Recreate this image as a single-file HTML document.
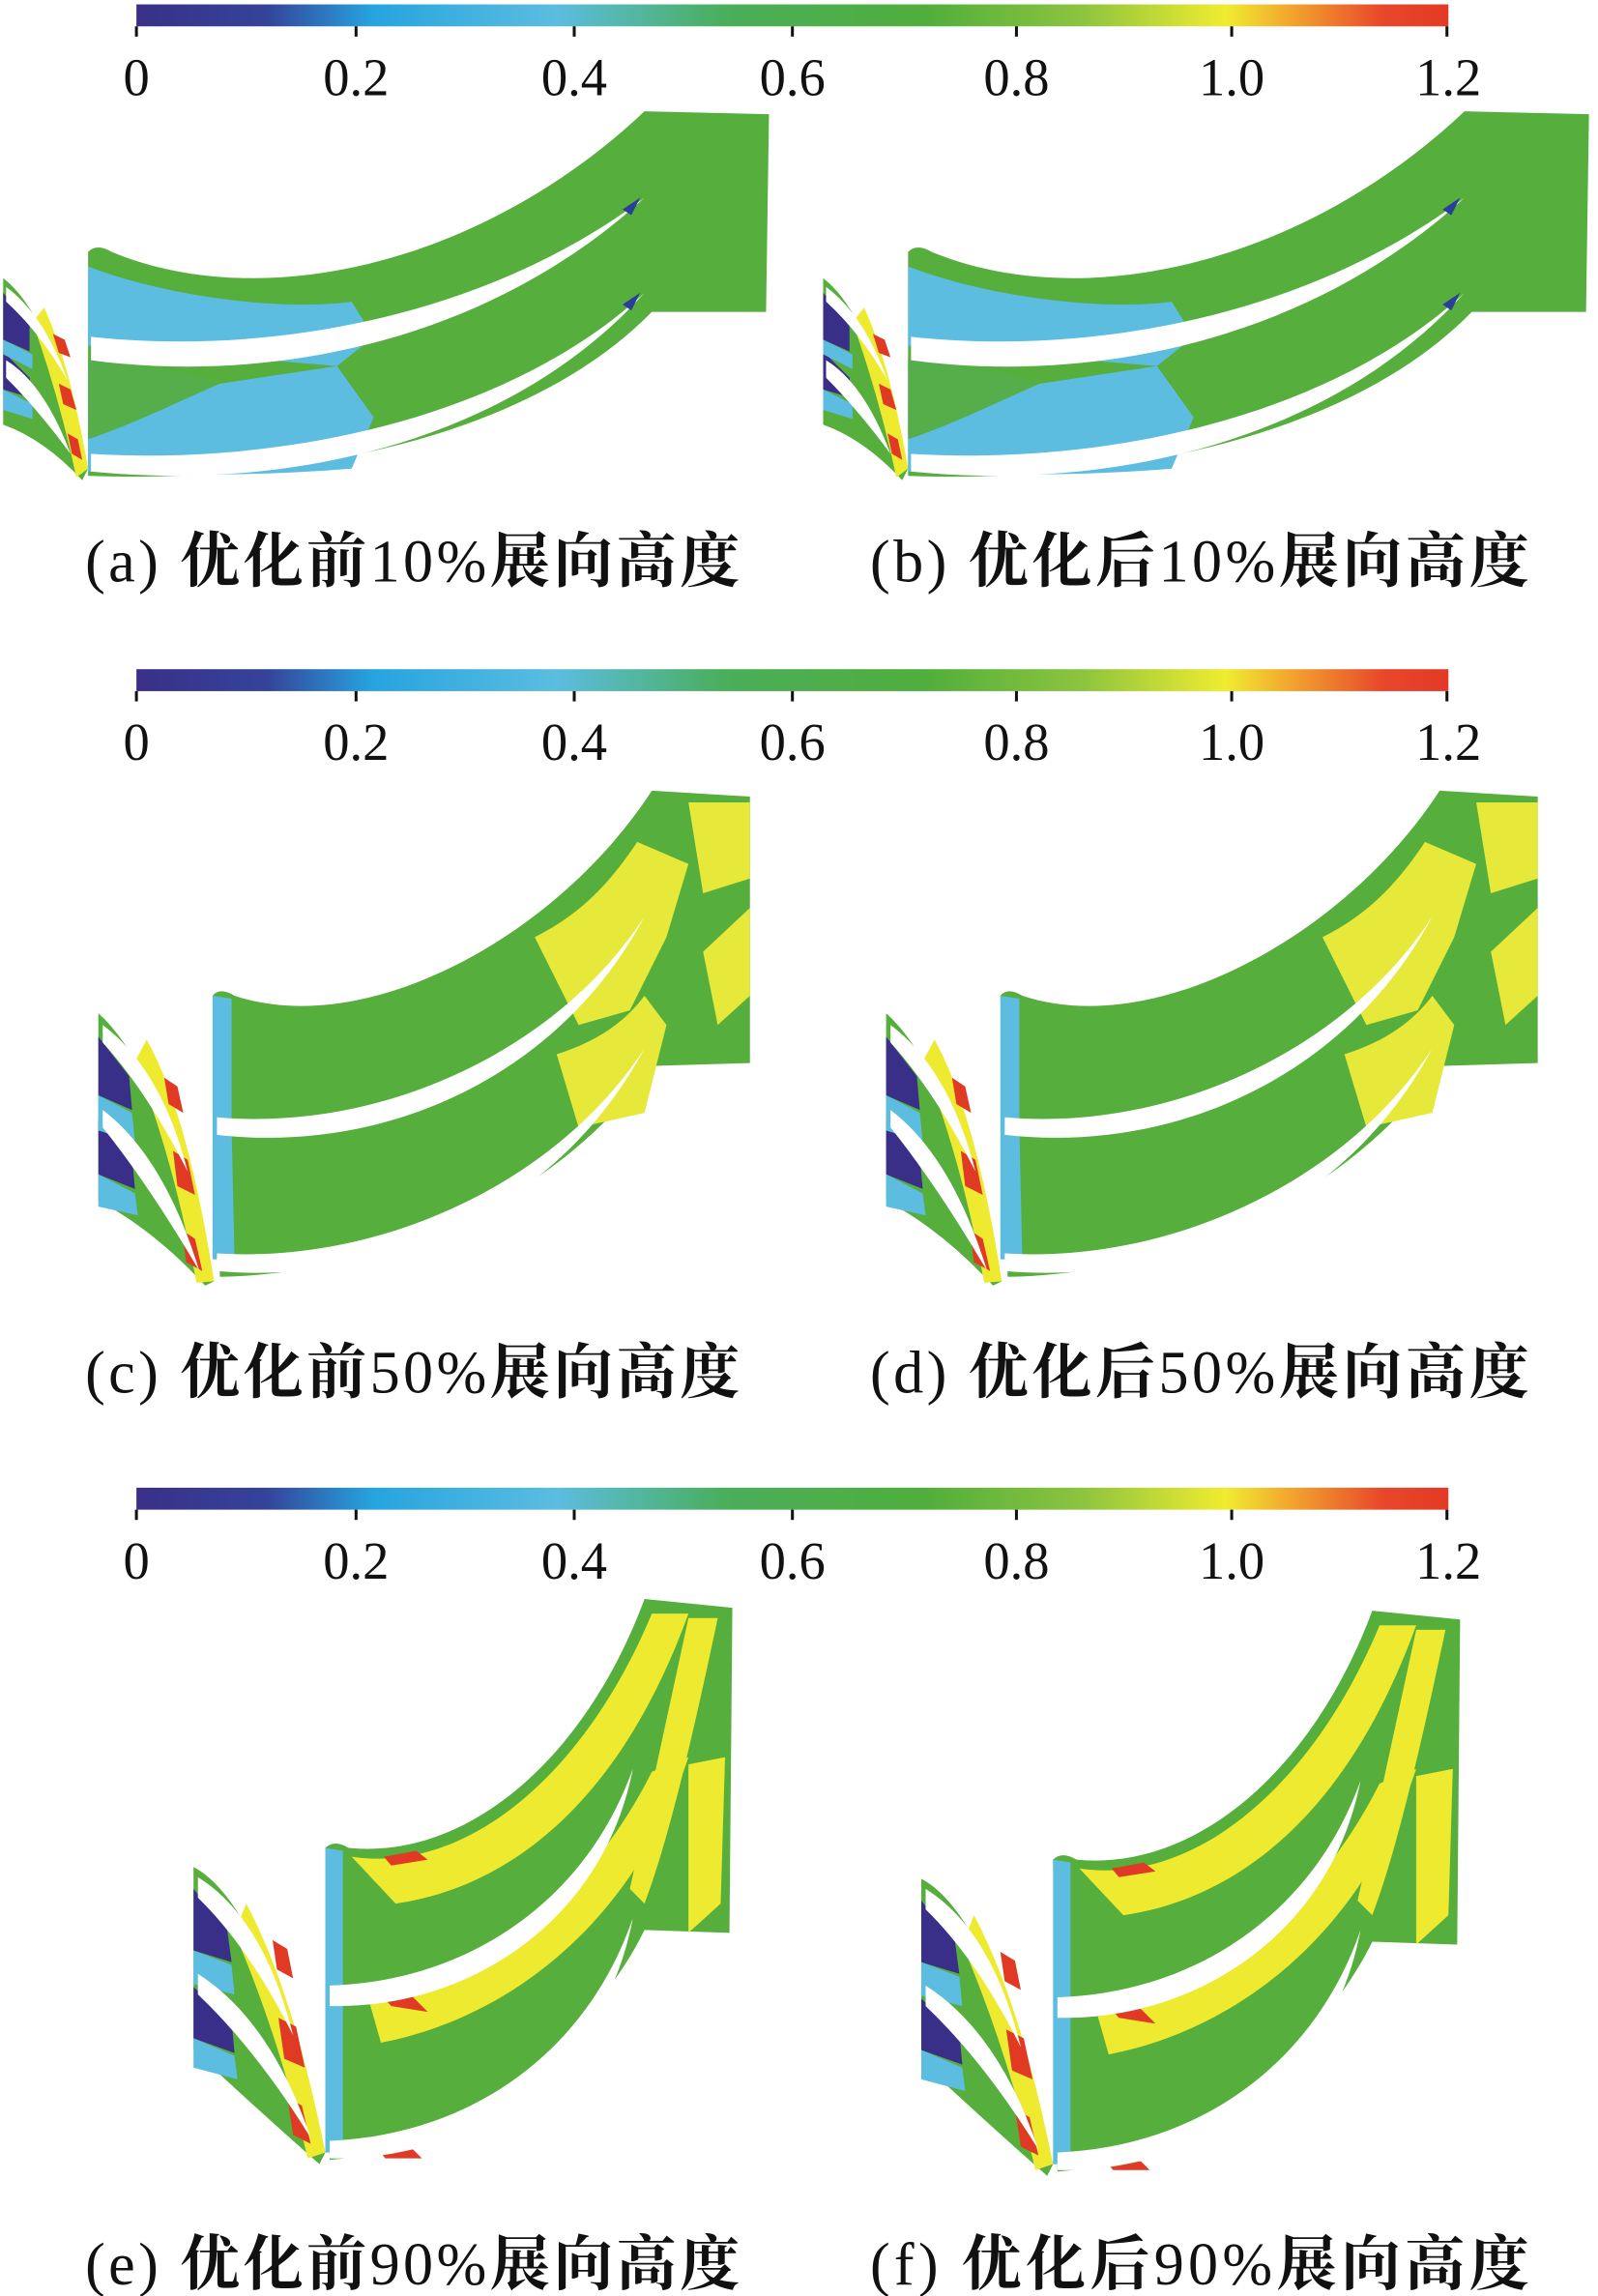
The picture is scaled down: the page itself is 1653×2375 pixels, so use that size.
<!DOCTYPE html>
<html><head><meta charset="utf-8"><style>
html,body{margin:0;padding:0;background:#fff}
svg{display:block}
.t{font-family:"Liberation Serif","Noto Serif CJK SC",serif;fill:#111}
</style></head><body>
<svg width="1653" height="2375" viewBox="0 0 1091 1568" xmlns="http://www.w3.org/2000/svg">
<defs>
<linearGradient id="cb" x1="0" x2="1" y1="0" y2="0">
<stop offset="0" stop-color="#3a2f88"/><stop offset="0.1" stop-color="#34449a"/>
<stop offset="0.18" stop-color="#26a4df"/><stop offset="0.32" stop-color="#5bbde0"/>
<stop offset="0.45" stop-color="#4aae5a"/><stop offset="0.6" stop-color="#50ae3c"/>
<stop offset="0.72" stop-color="#8cc43e"/><stop offset="0.83" stop-color="#f0ec30"/>
<stop offset="0.88" stop-color="#f2a52e"/><stop offset="0.95" stop-color="#e8472a"/>
<stop offset="1" stop-color="#e33a25"/></linearGradient>
<g id="bar">
<rect x="93" y="0" width="896" height="15" fill="url(#cb)"/>
<g stroke="#111" stroke-width="2">
<line x1="93" y1="15" x2="93" y2="22"/><line x1="243" y1="15" x2="243" y2="22"/><line x1="392" y1="15" x2="392" y2="22"/><line x1="541" y1="15" x2="541" y2="22"/><line x1="694" y1="15" x2="694" y2="22"/><line x1="841" y1="15" x2="841" y2="22"/><line x1="988" y1="15" x2="988" y2="22"/></g>
<g class="t" font-size="36" text-anchor="middle">
<text x="93" y="62">0</text><text x="243" y="62">0.2</text><text x="392" y="62">0.4</text><text x="541" y="62">0.6</text><text x="694" y="62">0.8</text><text x="841" y="62">1.0</text><text x="989" y="62">1.2</text></g>
</g>
<g id="pA">
<path d="M60,172 Q66,166 76,172 C180,215 330,180 440,76 L525,78 L523,213 L445,213 C360,300 200,330 60,325 Z" fill="#56ae3c"/>
<path d="M60,182 C120,205 200,212 240,206 L255,230 L230,250 C180,246 120,240 60,236 Z" fill="#5cbde0"/>
<path d="M60,246 L150,262 L230,250 L255,285 L240,320 C180,325 120,325 60,322 Z" fill="#5cbde0"/>
<path d="M60,244 C110,250 140,258 150,262 C120,275 90,290 60,300 Z" fill="#56ae4a"/>
<path d="M62,230 C180,243 330,218 440,135 C330,236 180,262 62,246 Z" fill="#fff"/>
<path d="M62,310 C200,318 350,283 440,200 C350,300 200,336 62,322 Z" fill="#fff"/>
<path d="M425,143 l12,-8 l-6,12 Z M425,208 l12,-8 l-6,12 Z" fill="#2a3f9a"/>
<path d="M2,190 Q35,215 60,320 L56,328 Q30,300 2,290 Z" fill="#56ae3c"/>
<path d="M30,210 Q48,250 60,320 L52,326 Q40,270 22,220 Z" fill="#eeea30"/>
<path d="M2,200 L20,220 L20,240 L2,232 Z M2,240 L20,258 L22,272 L2,266 Z" fill="#3a2f88"/>
<path d="M2,232 L22,242 L22,252 L2,242 Z M2,266 L22,276 L22,286 L2,280 Z" fill="#5cbde0"/>
<path d="M36,228 l8,4 l4,12 l-8,-3 Z M40,262 l8,4 l4,14 l-9,-4 Z M46,296 l7,4 l3,14 l-7,-4 Z" fill="#e03a25"/>
<path d="M4,196 Q30,215 46,260 Q28,228 4,206 Z M4,246 Q30,262 48,310 Q26,280 4,258 Z" fill="#fff"/>
</g>
<g id="pC">
<path d="M145,680 Q150,674 160,680 C250,710 380,640 445,540 L512,544 L512,726 L445,728 C380,820 260,870 150,872 Z" fill="#56ae3c"/>
<path d="M145,680 L158,682 L158,770 L145,770 Z M145,770 L158,770 L160,860 L145,860 Z" fill="#5cbde0"/>
<path d="M365,640 C395,625 415,605 435,575 L470,590 L455,640 L430,690 L395,700 Z" fill="#e6e83a"/>
<path d="M470,548 L512,548 L512,600 L480,610 Z M480,650 L512,620 L512,680 L490,700 Z" fill="#e6e83a"/>
<path d="M380,720 C405,712 425,700 440,680 L455,700 L440,760 L395,770 Z" fill="#e6e83a"/>
<path d="M148,763 C260,773 380,718 440,626 C380,738 260,788 148,775 Z" fill="#fff"/>
<path d="M148,856 C260,863 380,808 440,716 C380,828 260,878 148,868 Z" fill="#fff"/>
<path d="M67,692 Q110,730 146,875 L140,878 Q105,840 67,820 Z" fill="#56ae3c"/>
<path d="M100,710 Q128,760 146,875 L134,876 Q118,790 92,725 Z" fill="#eeea30"/>
<path d="M67,708 L88,735 L90,758 L67,748 Z M67,765 L90,790 L92,812 L67,802 Z" fill="#3a2f88"/>
<path d="M67,748 L90,760 L92,780 L67,772 Z M67,802 L92,815 L94,830 L67,824 Z" fill="#5cbde0"/>
<path d="M112,736 l9,6 l4,18 l-10,-6 Z M118,786 l10,6 l5,24 l-12,-6 Z M124,840 l9,6 l5,22 l-11,-6 Z" fill="#e03a25"/>
<path d="M70,700 Q110,730 128,800 Q100,745 70,712 Z M70,758 Q112,790 136,868 Q102,810 70,770 Z" fill="#fff"/>
</g>
<g id="pE">
<path d="M222,1262 Q228,1256 238,1262 C320,1270 400,1200 440,1092 L500,1098 L498,1320 L440,1318 C400,1400 300,1470 225,1475 Z" fill="#56ae3c"/>
<path d="M240,1268 C320,1280 400,1210 445,1102 L470,1102 C420,1240 340,1290 270,1300 Z" fill="#eeea30"/>
<path d="M250,1360 C320,1360 400,1300 445,1210 L470,1200 C430,1320 340,1380 260,1395 Z" fill="#eeea30"/>
<path d="M470,1105 L490,1105 C470,1200 455,1260 440,1300 L430,1290 Z M470,1205 L495,1200 L492,1300 L470,1320 Z" fill="#eeea30"/>
<path d="M222,1262 L234,1264 L234,1470 L222,1470 Z" fill="#5cbde0"/>
<path d="M262,1268 l22,-4 l8,6 l-25,4 Z M260,1362 l22,2 l10,10 l-25,-4 Z M258,1468 l24,0 l6,6 l-25,0 Z" fill="#e03a25"/>
<path d="M225,1356 C320,1353 400,1298 432,1208 C412,1312 320,1372 225,1370 Z" fill="#fff"/>
<path d="M225,1462 C320,1458 400,1403 432,1310 C412,1417 320,1476 225,1474 Z" fill="#fff"/>
<path d="M132,1275 Q180,1300 222,1470 L218,1478 Q175,1440 132,1400 Z" fill="#56ae3c"/>
<path d="M168,1300 Q200,1360 222,1470 L210,1474 Q190,1390 160,1320 Z" fill="#eeea30"/>
<path d="M132,1290 L155,1318 L158,1340 L132,1332 Z M132,1357 L158,1380 L160,1402 L132,1392 Z" fill="#3a2f88"/>
<path d="M132,1332 L158,1342 L160,1362 L132,1355 Z M132,1392 L160,1404 L162,1420 L132,1412 Z" fill="#5cbde0"/>
<path d="M186,1325 l10,6 l4,20 l-11,-6 Z M190,1378 l12,6 l6,28 l-14,-6 Z M196,1432 l10,6 l6,26 l-12,-6 Z" fill="#e03a25"/>
<path d="M135,1282 Q180,1310 200,1390 Q170,1330 135,1296 Z M135,1348 Q185,1380 212,1460 Q175,1400 135,1362 Z" fill="#fff"/>
</g>
</defs>
<use href="#bar" x="0" y="3"/>
<use href="#bar" x="0" y="457"/>
<use href="#bar" x="0" y="1016"/>
<use href="#pA"/>
<use href="#pA" x="560" y="0"/>
<use href="#pC"/>
<use href="#pC" x="538" y="0"/>
<use href="#pE"/>
<use href="#pE" x="497" y="8"/>
<g class="t" font-size="41">
<text x="58" y="397" textLength="447">(a) <tspan font-weight="bold">优化前</tspan>10%<tspan font-weight="bold">展向高度</tspan></text>
<text x="594" y="397" textLength="450">(b) <tspan font-weight="bold">优化后</tspan>10%<tspan font-weight="bold">展向高度</tspan></text>
<text x="58" y="951" textLength="447">(c) <tspan font-weight="bold">优化前</tspan>50%<tspan font-weight="bold">展向高度</tspan></text>
<text x="594" y="951" textLength="450">(d) <tspan font-weight="bold">优化后</tspan>50%<tspan font-weight="bold">展向高度</tspan></text>
<text x="58" y="1560" textLength="447">(e) <tspan font-weight="bold">优化前</tspan>90%<tspan font-weight="bold">展向高度</tspan></text>
<text x="594" y="1560" textLength="450">(f) <tspan font-weight="bold">优化后</tspan>90%<tspan font-weight="bold">展向高度</tspan></text>
</g>
</svg>
</body></html>
